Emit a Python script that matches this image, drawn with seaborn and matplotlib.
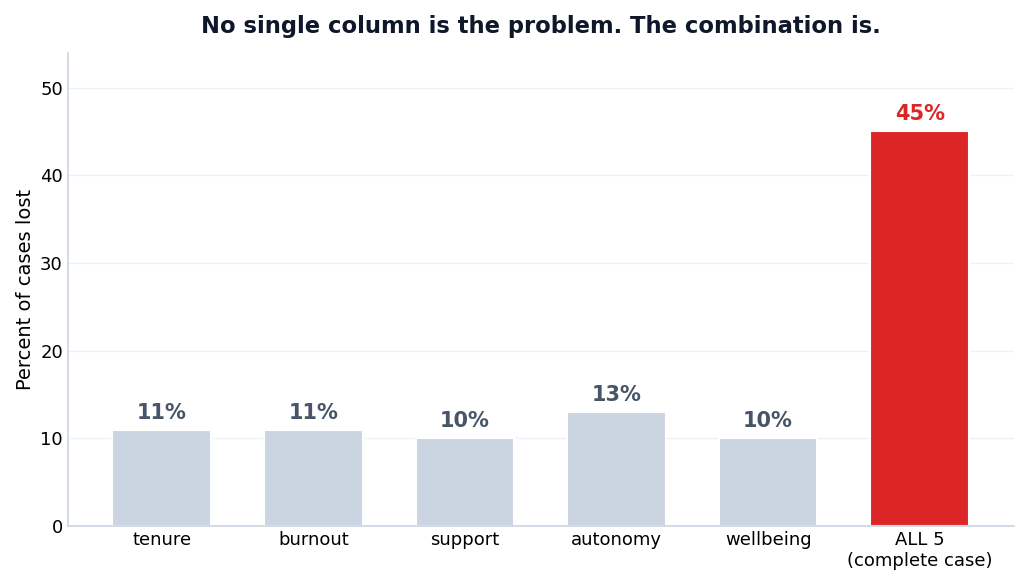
import matplotlib
matplotlib.use("Agg")
import matplotlib.pyplot as plt
import seaborn as sns
import pandas as pd

columns = ["tenure", "burnout", "support", "autonomy", "wellbeing", "ALL 5\n(complete case)"]
pct_lost = [11, 11, 10, 13, 10, 45]
labels = ["11%", "11%", "10%", "13%", "10%", "45%"]

grey = "#cbd5e1"
red = "#dc2626"
colors = [grey] * 5 + [red]
label_colors = ["#475569"] * 5 + [red]

sns.set_theme(style="white")
plt.rcParams["font.family"] = ["DejaVu Sans"]
plt.rcParams["text.color"] = "black"
plt.rcParams["axes.labelcolor"] = "black"
plt.rcParams["xtick.color"] = "black"
plt.rcParams["ytick.color"] = "black"

df = pd.DataFrame({"column": columns, "pct": pct_lost})

fig, ax = plt.subplots(figsize=(10.27, 5.84), dpi=100)
sns.barplot(data=df, x="column", y="pct", hue="column", palette=colors,
            legend=False, width=0.65, saturation=1, edgecolor="white",
            linewidth=1.5, ax=ax)

for i, (v, lab) in enumerate(zip(pct_lost, labels)):
    ax.text(i, v + 0.8, lab, ha="center", va="bottom", fontsize=15,
            fontweight="bold", color=label_colors[i])

ax.set_ylim(0, 54)
ax.set_xlim(-0.62, 5.62)
ax.set_yticks([0, 10, 20, 30, 40, 50])
ax.yaxis.grid(True, color="#eef1f5", linewidth=1)
ax.set_axisbelow(True)
ax.set_xlabel("")
ax.set_ylabel("Percent of cases lost", fontsize=14)
ax.tick_params(axis="both", labelsize=13, length=0)
ax.set_title("No single column is the problem. The combination is.",
             fontsize=16.3, fontweight="bold", color="#0f172a", pad=14)

sns.despine(ax=ax)
for s in ["left", "bottom"]:
    ax.spines[s].set_color(grey)
    ax.spines[s].set_linewidth(1.2)

fig.subplots_adjust(left=0.066, right=0.987, top=0.91, bottom=0.099)
fig.savefig("out.png", dpi=100)
